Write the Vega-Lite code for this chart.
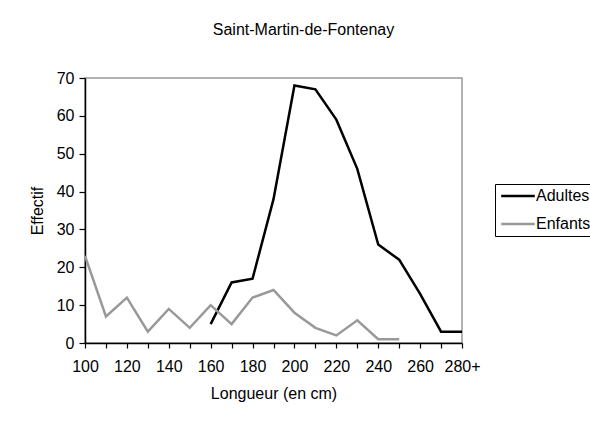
{
  "$schema": "https://vega.github.io/schema/vega-lite/v6.json",
  "width": 377,
  "height": 265,
  "autosize": "none",
  "padding": {"left": 85, "top": 78, "right": 128, "bottom": 80},
  "background": "white",
  "title": {
    "text": "Saint-Martin-de-Fontenay",
    "anchor": "middle",
    "dx": 30,
    "offset": 32,
    "font": "Liberation Sans",
    "fontSize": 16,
    "fontWeight": "normal",
    "color": "#000000"
  },
  "config": {
    "view": {"stroke": "#999999", "strokeWidth": 1.5},
    "font": "Liberation Sans"
  },
  "data": {
    "values": [
      {"longueur": "160", "serie": "Adultes", "effectif": 5},
      {"longueur": "170", "serie": "Adultes", "effectif": 16},
      {"longueur": "180", "serie": "Adultes", "effectif": 17},
      {"longueur": "190", "serie": "Adultes", "effectif": 38},
      {"longueur": "200", "serie": "Adultes", "effectif": 68},
      {"longueur": "210", "serie": "Adultes", "effectif": 67},
      {"longueur": "220", "serie": "Adultes", "effectif": 59},
      {"longueur": "230", "serie": "Adultes", "effectif": 46},
      {"longueur": "240", "serie": "Adultes", "effectif": 26},
      {"longueur": "250", "serie": "Adultes", "effectif": 22},
      {"longueur": "260", "serie": "Adultes", "effectif": 13},
      {"longueur": "270", "serie": "Adultes", "effectif": 3},
      {"longueur": "280+", "serie": "Adultes", "effectif": 3},
      {"longueur": "100", "serie": "Enfants", "effectif": 23},
      {"longueur": "110", "serie": "Enfants", "effectif": 7},
      {"longueur": "120", "serie": "Enfants", "effectif": 12},
      {"longueur": "130", "serie": "Enfants", "effectif": 3},
      {"longueur": "140", "serie": "Enfants", "effectif": 9},
      {"longueur": "150", "serie": "Enfants", "effectif": 4},
      {"longueur": "160", "serie": "Enfants", "effectif": 10},
      {"longueur": "170", "serie": "Enfants", "effectif": 5},
      {"longueur": "180", "serie": "Enfants", "effectif": 12},
      {"longueur": "190", "serie": "Enfants", "effectif": 14},
      {"longueur": "200", "serie": "Enfants", "effectif": 8},
      {"longueur": "210", "serie": "Enfants", "effectif": 4},
      {"longueur": "220", "serie": "Enfants", "effectif": 2},
      {"longueur": "230", "serie": "Enfants", "effectif": 6},
      {"longueur": "240", "serie": "Enfants", "effectif": 1},
      {"longueur": "250", "serie": "Enfants", "effectif": 1}
    ]
  },
  "mark": {"type": "line", "strokeWidth": 2.5},
  "encoding": {
    "x": {
      "field": "longueur",
      "type": "ordinal",
      "sort": ["100","110","120","130","140","150","160","170","180","190","200","210","220","230","240","250","260","270","280+"],
      "scale": {
        "type": "point",
        "padding": 0,
        "domain": ["100","110","120","130","140","150","160","170","180","190","200","210","220","230","240","250","260","270","280+"]
      },
      "axis": {
        "title": "Longueur (en cm)",
        "titleFont": "Liberation Sans",
        "titleFontSize": 16,
        "titleFontWeight": "normal",
        "titleColor": "#000000",
        "titlePadding": 11,
        "labelFont": "Liberation Sans",
        "labelFontSize": 16,
        "labelColor": "#000000",
        "labelAngle": 0,
        "labelPadding": 10,
        "labelOverlap": false,
        "labelExpr": "indexof(['110','130','150','170','190','210','230','250','270'], datum.label) >= 0 ? '' : datum.label",
        "domainColor": "#000000",
        "domainWidth": 1.5,
        "tickColor": "#000000",
        "tickWidth": 1.2,
        "tickSize": 5,
        "grid": false
      }
    },
    "y": {
      "field": "effectif",
      "type": "quantitative",
      "scale": {"domain": [0, 70], "nice": false},
      "axis": {
        "title": "Effectif",
        "values": [0, 10, 20, 30, 40, 50, 60, 70],
        "titleFont": "Liberation Sans",
        "titleFontSize": 16,
        "titleFontWeight": "normal",
        "titleColor": "#000000",
        "titlePadding": 11,
        "labelFont": "Liberation Sans",
        "labelFontSize": 16,
        "labelColor": "#000000",
        "labelPadding": 5,
        "domainColor": "#000000",
        "domainWidth": 1.5,
        "tickColor": "#000000",
        "tickWidth": 1.2,
        "tickSize": 6,
        "grid": false
      }
    },
    "color": {
      "field": "serie",
      "type": "nominal",
      "scale": {"domain": ["Adultes", "Enfants"], "range": ["#000000", "#999999"]},
      "legend": {
        "title": null,
        "orient": "none",
        "legendX": 410,
        "legendY": 106,
        "symbolType": "M-2.8,0H2.8",
        "symbolSize": 144,
        "symbolOffset": 11,
        "symbolStrokeWidth": 2.5,
        "labelFont": "Liberation Sans",
        "labelFontSize": 16,
        "labelColor": "#000000",
        "labelOffset": 10,
        "rowPadding": 12,
        "padding": 4,
        "strokeColor": "#000000",
        "fillColor": "#ffffff"
      }
    }
  }
}
